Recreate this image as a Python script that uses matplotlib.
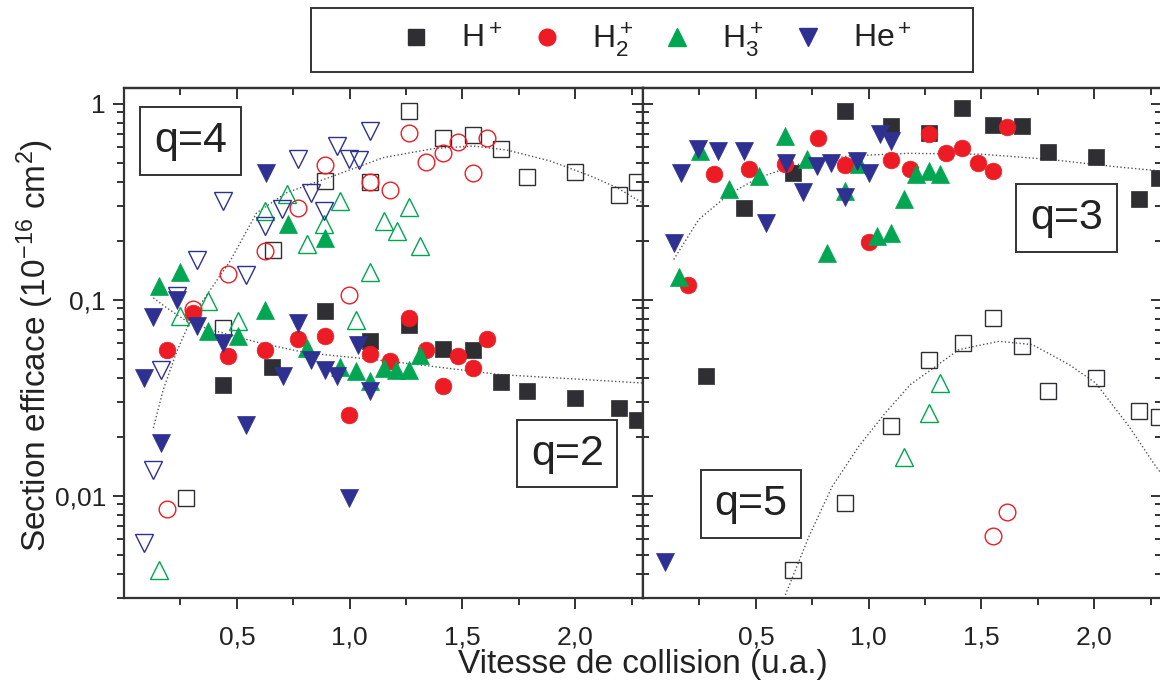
import matplotlib
matplotlib.use("Agg")
import matplotlib.pyplot as plt
from matplotlib.lines import Line2D
from matplotlib.patches import Rectangle

plt.rcParams['font.family'] = ['Liberation Sans', 'DejaVu Sans']
plt.rcParams['mathtext.fontset'] = 'custom'
plt.rcParams['mathtext.rm'] = 'Liberation Sans'
plt.rcParams['mathtext.it'] = 'Liberation Sans'
plt.rcParams['mathtext.bf'] = 'Liberation Sans'

# ---- left panel, q=2 (filled) ----
h_q2_x = [0.44, 0.658, 0.891, 1.091, 1.261, 1.412, 1.546, 1.67, 1.786, 2.0, 2.192, 2.274]
h_q2_y = [0.0366, 0.0453, 0.0871, 0.0612, 0.0745, 0.056, 0.0555, 0.0378, 0.034, 0.0315, 0.028, 0.0244]
h2_q2_x = [0.192, 0.307, 0.463, 0.625, 0.769, 0.891, 0.995, 1.091, 1.18, 1.261, 1.339, 1.412, 1.48, 1.546, 1.608]
h2_q2_y = [0.0555, 0.0855, 0.0518, 0.0555, 0.063, 0.0649, 0.0259, 0.053, 0.0484, 0.0806, 0.0551, 0.036, 0.0513, 0.0448, 0.0632]
h3_q2_x = [0.157, 0.248, 0.374, 0.507, 0.625, 0.726, 0.81, 0.891, 0.958, 1.027, 1.091, 1.15, 1.206, 1.261, 1.313]
h3_q2_y = [0.117, 0.138, 0.0689, 0.0649, 0.0886, 0.242, 0.0566, 0.207, 0.0453, 0.043, 0.0383, 0.0445, 0.0437, 0.0439, 0.0524]
he_q2_x = [0.09, 0.13, 0.164, 0.236, 0.325, 0.44, 0.541, 0.628, 0.704, 0.769, 0.829, 0.891, 0.943, 0.995, 1.035, 1.091]
he_q2_y = [0.0398, 0.0814, 0.0185, 0.1, 0.073, 0.06, 0.023, 0.444, 0.0406, 0.076, 0.0494, 0.0439, 0.0406, 0.0097, 0.0589, 0.034]

# ---- left panel, q=4 (open) ----
h_q4_x = [0.275, 0.44, 0.662, 0.891, 1.091, 1.261, 1.412, 1.546, 1.67, 1.786, 2.0, 2.192, 2.274]
h_q4_y = [0.0097, 0.0717, 0.178, 0.402, 0.397, 0.916, 0.67, 0.689, 0.589, 0.424, 0.449, 0.341, 0.398]
h2_q4_x = [0.192, 0.307, 0.463, 0.625, 0.769, 0.891, 0.995, 1.091, 1.18, 1.261, 1.339, 1.412, 1.48, 1.546, 1.608]
h2_q4_y = [0.0085, 0.0896, 0.135, 0.177, 0.294, 0.484, 0.105, 0.398, 0.36, 0.705, 0.503, 0.562, 0.64, 0.444, 0.67]
h3_q4_x = [0.157, 0.248, 0.374, 0.507, 0.625, 0.722, 0.81, 0.887, 0.958, 1.027, 1.091, 1.15, 1.208, 1.261, 1.313]
h3_q4_y = [0.00417, 0.0828, 0.098, 0.0775, 0.283, 0.344, 0.193, 0.242, 0.318, 0.0786, 0.138, 0.251, 0.223, 0.298, 0.187]
he_q4_x = [0.09, 0.13, 0.164, 0.236, 0.322, 0.44, 0.54, 0.625, 0.699, 0.769, 0.828, 0.887, 0.943, 0.995, 1.043, 1.091]
he_q4_y = [0.0057, 0.0135, 0.0439, 0.104, 0.16, 0.318, 0.134, 0.237, 0.288, 0.519, 0.351, 0.283, 0.607, 0.519, 0.513, 0.724]

# ---- right panel, q=3 (filled) ----
h_q3_x = [0.281, 0.447, 0.664, 0.894, 1.097, 1.267, 1.415, 1.552, 1.678, 1.795, 2.006, 2.198, 2.287]
h_q3_y = [0.0406, 0.294, 0.44, 0.916, 0.772, 0.711, 0.954, 0.775, 0.769, 0.568, 0.536, 0.324, 0.418]
h2_q3_x = [0.2, 0.314, 0.469, 0.631, 0.775, 0.894, 1.001, 1.097, 1.182, 1.267, 1.344, 1.415, 1.486, 1.552, 1.614]
h2_q3_y = [0.119, 0.435, 0.466, 0.49, 0.67, 0.486, 0.197, 0.515, 0.462, 0.697, 0.557, 0.591, 0.499, 0.453, 0.759]
h3_q3_x = [0.158, 0.254, 0.383, 0.516, 0.631, 0.727, 0.816, 0.894, 0.957, 1.038, 1.097, 1.156, 1.208, 1.267, 1.318]
h3_q3_y = [0.131, 0.573, 0.365, 0.427, 0.683, 0.519, 0.173, 0.357, 0.49, 0.211, 0.219, 0.324, 0.435, 0.453, 0.435]
he_q3_x = [0.099, 0.136, 0.17, 0.244, 0.333, 0.447, 0.547, 0.634, 0.708, 0.772, 0.835, 0.894, 0.949, 1.001, 1.052, 1.101]
he_q3_y = [0.0046, 0.195, 0.444, 0.584, 0.573, 0.573, 0.245, 0.499, 0.353, 0.48, 0.499, 0.335, 0.509, 0.44, 0.697, 0.644]

# ---- right panel, q=5 (open) ----
h_q5_x = [0.664, 0.894, 1.097, 1.267, 1.418, 1.552, 1.678, 1.795, 2.006, 2.198, 2.287]
h_q5_y = [0.00417, 0.00914, 0.0227, 0.0494, 0.0601, 0.0806, 0.0577, 0.034, 0.0398, 0.0271, 0.0253]
h2_q5_x = [1.551, 1.614]
h2_q5_y = [0.00622, 0.0082]
h3_q5_x = [1.156, 1.267, 1.318]
h3_q5_y = [0.0158, 0.0264, 0.0375]

# ---- dotted guide curves ----
fit_q4_x = [0.13, 0.174, 0.234, 0.293, 0.337, 0.47, 0.588, 0.721, 0.928, 1.15, 1.372, 1.549, 1.697, 1.889, 2.067, 2.185, 2.3]
fit_q4_y = [0.0221, 0.0347, 0.0544, 0.0775, 0.094, 0.157, 0.277, 0.351, 0.427, 0.53, 0.589, 0.607, 0.579, 0.509, 0.427, 0.372, 0.31]
fit_q2_x = [0.13, 0.189, 0.278, 0.381, 0.603, 0.81, 1.106, 1.298, 1.667, 2.3]
fit_q2_y = [0.102, 0.0907, 0.0775, 0.0703, 0.06, 0.0534, 0.0494, 0.0466, 0.0414, 0.0375]
fit_q3_x = [0.136, 0.247, 0.38, 0.513, 0.69, 0.912, 1.178, 1.503, 1.799, 2.094, 2.3]
fit_q3_y = [0.16, 0.256, 0.344, 0.419, 0.49, 0.54, 0.557, 0.551, 0.519, 0.476, 0.452]
fit_q5_x = [0.631, 0.735, 0.838, 0.956, 1.074, 1.185, 1.4, 1.577, 1.725, 1.888, 2.006, 2.154, 2.272, 2.3]
fit_q5_y = [0.00311, 0.00617, 0.0111, 0.0178, 0.0264, 0.0368, 0.0555, 0.0612, 0.0589, 0.0466, 0.0375, 0.0225, 0.0141, 0.0128]

c_h = '#2f2f33'
c_h2 = '#ed1c24'
c_h3 = '#00a651'
c_he = '#2e3192'
axcol = '#333333'
txtcol = '#222222'

fig = plt.figure(figsize=(11.6, 6.86), dpi=100)
W = 519 / 1160
bot = 88 / 686
H = 510 / 686
ax1 = fig.add_axes([124 / 1160, bot, W, H])
ax2 = fig.add_axes([643 / 1160, bot, W, H])


def filled(ax, x, y, m, c, ms):
    ax.plot(x, y, ls='none', marker=m, ms=ms, mfc=c, mec=c, mew=0.5, clip_on=False)


def hollow(ax, x, y, m, c, ms):
    ax.plot(x, y, ls='none', marker=m, ms=ms, mfc='none', mec=c, mew=1.0, clip_on=False)


# left panel
ax1.plot(fit_q4_x, fit_q4_y, ls=':', color='#555555', lw=1.0)
ax1.plot(fit_q2_x, fit_q2_y, ls=':', color='#555555', lw=1.0)
hollow(ax1, h_q4_x, h_q4_y, 's', c_h, 11)
hollow(ax1, h2_q4_x, h2_q4_y, 'o', c_h2, 12)
hollow(ax1, h3_q4_x, h3_q4_y, '^', c_h3, 13)
hollow(ax1, he_q4_x, he_q4_y, 'v', c_he, 13)
filled(ax1, h_q2_x, h_q2_y, 's', c_h, 11)
filled(ax1, h2_q2_x, h2_q2_y, 'o', c_h2, 12)
filled(ax1, h3_q2_x, h3_q2_y, '^', c_h3, 13)
filled(ax1, he_q2_x, he_q2_y, 'v', c_he, 13)

# right panel
ax2.plot(fit_q3_x, fit_q3_y, ls=':', color='#555555', lw=1.0)
ax2.plot(fit_q5_x, fit_q5_y, ls=':', color='#555555', lw=1.0)
hollow(ax2, h_q5_x, h_q5_y, 's', c_h, 11)
hollow(ax2, h2_q5_x, h2_q5_y, 'o', c_h2, 12)
hollow(ax2, h3_q5_x, h3_q5_y, '^', c_h3, 13)
filled(ax2, h_q3_x, h_q3_y, 's', c_h, 11)
filled(ax2, h2_q3_x, h2_q3_y, 'o', c_h2, 12)
filled(ax2, h3_q3_x, h3_q3_y, '^', c_h3, 13)
filled(ax2, he_q3_x, he_q3_y, 'v', c_he, 13)

for ax in (ax1, ax2):
    ax.set_yscale('log')
    ax.set_xlim(0, 2.3)
    ax.set_ylim(0.003, 1.2)
    ax.set_xticks([0.5, 1.0, 1.5, 2.0])
    ax.set_xticklabels(['0,5', '1,0', '1,5', '2,0'])
    ax.set_xticks([0.25, 0.75, 1.25, 1.75, 2.25], minor=True)
    ax.set_yticks([0.01, 0.1, 1])
    for s in ax.spines.values():
        s.set_linewidth(1.6)
        s.set_color(axcol)
    ax.tick_params(axis='both', which='both', direction='out', color=axcol,
                   labelsize=19, labelcolor=txtcol, width=1.4)
    ax.tick_params(which='major', length=8)
    ax.tick_params(which='minor', length=5)
    ax.tick_params(axis='x', pad=12)
    ax.tick_params(axis='y', pad=5)
    secx = ax.secondary_xaxis('top')
    secx.set_xticks([0.5, 1.0, 1.5, 2.0])
    secx.set_xticks([0.25, 0.75, 1.25, 1.75, 2.25], minor=True)
    secx.tick_params(which='both', direction='in', labeltop=False, color=axcol, width=1.4)
    secx.tick_params(which='major', length=8)
    secx.tick_params(which='minor', length=5)
    secx.spines['top'].set_linewidth(1.6)
    secx.spines['top'].set_color(axcol)
    secy = ax.secondary_yaxis('right')
    secy.tick_params(which='both', direction='in', labelright=False, color=axcol, width=1.4)
    secy.tick_params(which='major', length=8)
    secy.tick_params(which='minor', length=5)
    secy.spines['right'].set_linewidth(1.6)
    secy.spines['right'].set_color(axcol)

ax1.set_yticklabels(['0,01', '0,1', '1'])
ax2.tick_params(axis='y', which='both', labelleft=False, direction='inout')
ax2.tick_params(axis='y', which='major', length=14)
ax2.tick_params(axis='y', which='minor', length=9)

box = dict(boxstyle='square,pad=0.32', fc='white', ec=axcol, lw=1.4)
ax1.text(0.128, 0.896, 'q=4', transform=ax1.transAxes, fontsize=31, ha='center', va='center',
         color=txtcol, bbox=box)
ax1.text(0.854, 0.283, 'q=2', transform=ax1.transAxes, fontsize=31, ha='center', va='center',
         color=txtcol, bbox=box)
ax2.text(0.816, 0.745, 'q=3', transform=ax2.transAxes, fontsize=31, ha='center', va='center',
         color=txtcol, bbox=box)
ax2.text(0.208, 0.184, 'q=5', transform=ax2.transAxes, fontsize=31, ha='center', va='center',
         color=txtcol, bbox=box)

fig.text(35 / 1160, 1 - 345 / 686, 'Section efficace (10$^{-16}$ cm$^2$)', rotation=90,
         fontsize=24, ha='center', va='center', color=txtcol)
fig.text(643 / 1160, 1 - 665 / 686, 'Vitesse de collision (u.a.)', fontsize=24,
         ha='center', va='center', color=txtcol)

# legend: frame drawn separately, entries centred inside it
fig.patches.append(Rectangle((311 / 1160, 1 - 72 / 686), 662 / 1160, 64 / 686,
                             transform=fig.transFigure, fill=False, ec=axcol, lw=1.4))
handles = [
    Line2D([], [], ls='none', marker='s', ms=11, mfc=c_h, mec=c_h),
    Line2D([], [], ls='none', marker='o', ms=12, mfc=c_h2, mec=c_h2),
    Line2D([], [], ls='none', marker='^', ms=13, mfc=c_h3, mec=c_h3),
    Line2D([], [], ls='none', marker='v', ms=13, mfc=c_he, mec=c_he),
]
labels = ['H$^+$', 'H$_2^+$', 'H$_3^+$', 'He$^+$']
leg = fig.legend(handles, labels, ncol=4, loc='center', bbox_to_anchor=(656 / 1160, 1 - 40 / 686),
                 frameon=False, fontsize=23, handletextpad=0.9, columnspacing=0.9,
                 borderpad=0, borderaxespad=0, handlelength=1.0)
for t in leg.get_texts():
    t.set_color(txtcol)

fig.savefig('out.png', dpi=100)
